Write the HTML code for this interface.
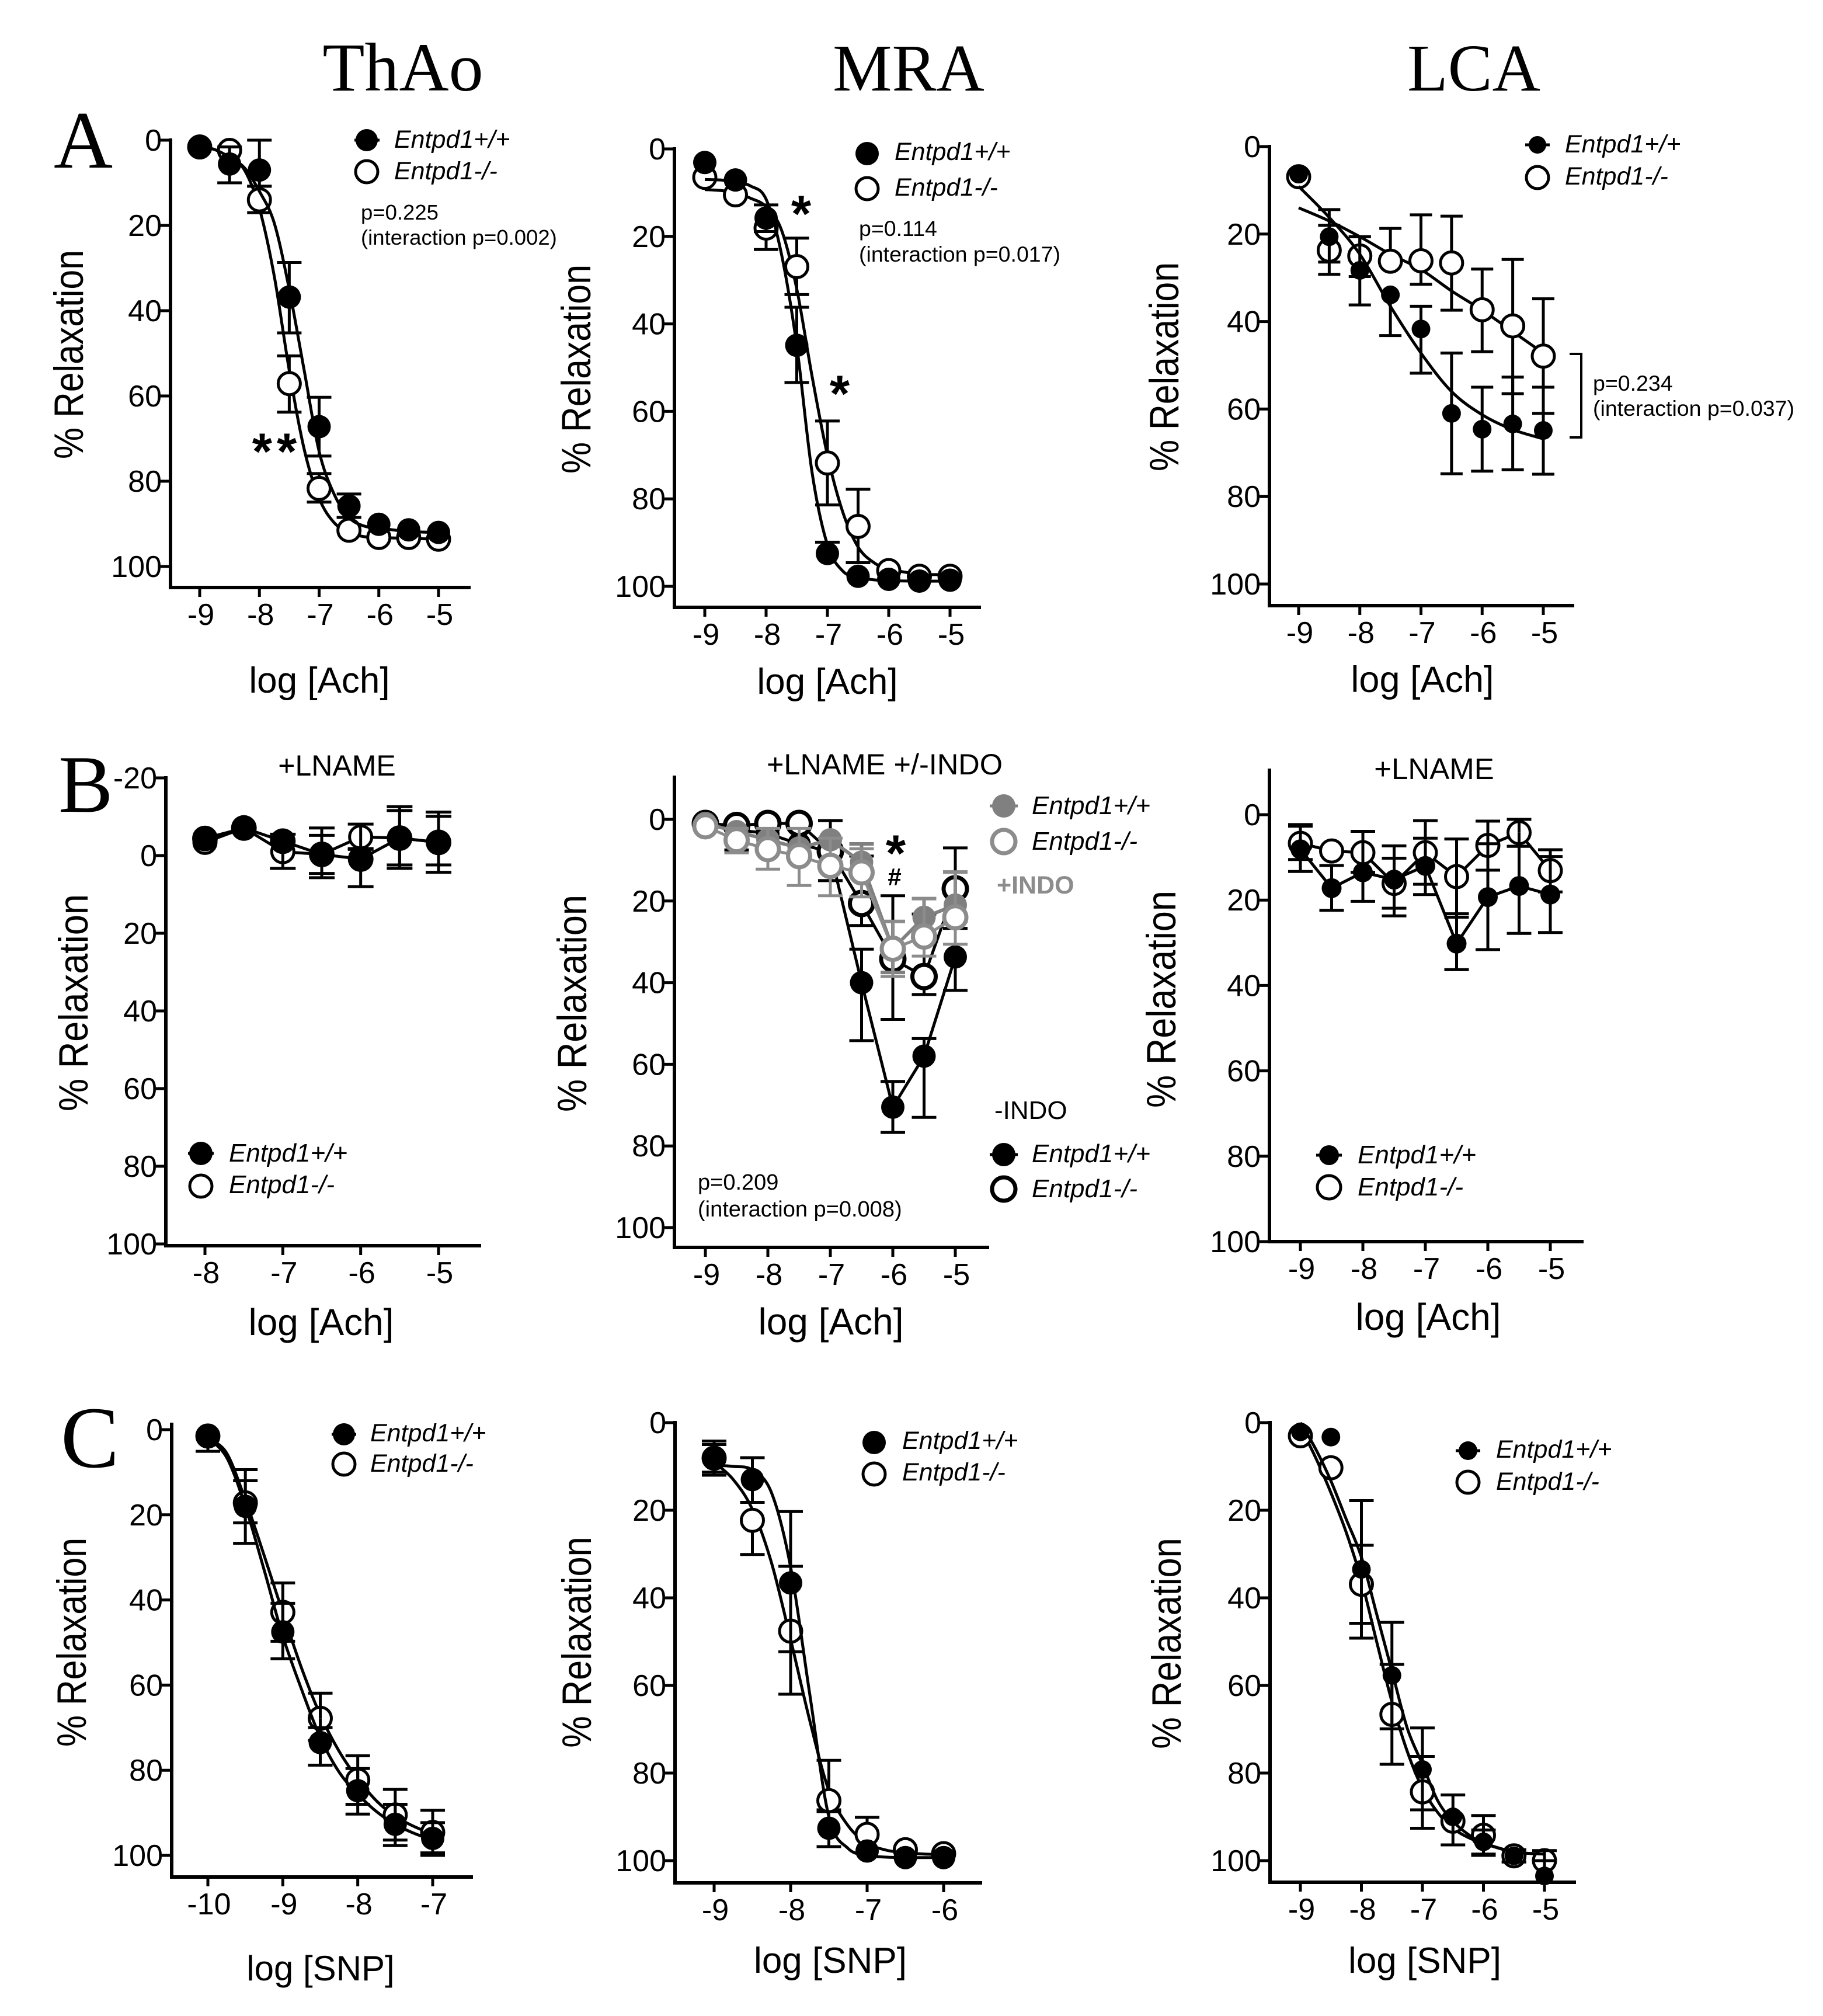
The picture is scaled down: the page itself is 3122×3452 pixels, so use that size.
<!DOCTYPE html>
<html lang="en">
<head>
<meta charset="utf-8">
<title>Vascular relaxation dose-response panels</title>
<style>
html,body{margin:0;padding:0;background:#fff;}
svg{display:block;position:absolute;left:0;top:0;}
text{font-family:"Liberation Sans",Arial,sans-serif;fill:#000;}
.col{font-family:"Liberation Serif",serif;font-size:114px;}
.let{font-family:"Liberation Serif",serif;font-size:140px;}
.yt{font-size:59px;}
.xt{font-size:62px;text-anchor:middle;}
.lg{font-size:43px;font-style:italic;}
.pv{font-size:37px;}
.sub{font-size:50px;text-anchor:middle;}
.st{font-size:88px;font-weight:bold;text-anchor:middle;}
</style>
</head>
<body>
<svg id="fig" xmlns="http://www.w3.org/2000/svg" width="3122" height="3452" viewBox="0 0 3122 3452">
<rect width="3122" height="3452" fill="#fff"/>
<text class="col" x="690" y="155" style="text-anchor:middle;font-size:118px">ThAo</text>
<text class="col" x="1556" y="155" style="text-anchor:middle">MRA</text>
<text class="col" x="2524" y="155" style="text-anchor:middle">LCA</text>
<text class="let" x="92" y="287">A</text>
<text class="let" x="100" y="1390">B</text>
<text class="let" x="104" y="2512" style="font-size:150px">C</text>

<text class="yt" transform="translate(142,607) rotate(-90) scale(1.03,1.2)" text-anchor="middle">% Relaxation</text>
<text class="yt" transform="translate(1011,632) rotate(-90) scale(1.03,1.2)" text-anchor="middle">% Relaxation</text>
<text class="yt" transform="translate(2018,628) rotate(-90) scale(1.03,1.2)" text-anchor="middle">% Relaxation</text>
<text class="yt" transform="translate(150,1717) rotate(-90) scale(1.07,1.2)" text-anchor="middle">% Relaxation</text>
<text class="yt" transform="translate(1004,1718) rotate(-90) scale(1.07,1.2)" text-anchor="middle">% Relaxation</text>
<text class="yt" transform="translate(2013,1711) rotate(-90) scale(1.07,1.2)" text-anchor="middle">% Relaxation</text>
<text class="yt" transform="translate(147,2812) rotate(-90) scale(1.03,1.2)" text-anchor="middle">% Relaxation</text>
<text class="yt" transform="translate(1012,2812) rotate(-90) scale(1.04,1.2)" text-anchor="middle">% Relaxation</text>
<text class="yt" transform="translate(2022,2814) rotate(-90) scale(1.04,1.2)" text-anchor="middle">% Relaxation</text>

<text class="xt" x="547" y="1186">log [Ach]</text>
<text class="xt" x="1417" y="1188">log [Ach]</text>
<text class="xt" x="2436" y="1185" style="font-size:63px">log [Ach]</text>
<text class="xt" x="550" y="2286" style="font-size:64px">log [Ach]</text>
<text class="xt" x="1423" y="2285" style="font-size:64px">log [Ach]</text>
<text class="xt" x="2446" y="2277" style="font-size:64px">log [Ach]</text>
<text class="xt" x="549" y="3391" style="font-size:60px">log [SNP]</text>
<text class="xt" x="1422" y="3378" style="font-size:62px">log [SNP]</text>
<text class="xt" x="2440" y="3378" style="font-size:62px">log [SNP]</text>

<text class="sub" x="577" y="1328">+LNAME</text>
<text class="sub" x="1515" y="1326" style="font-size:50.5px">+LNAME +/-INDO</text>
<text class="sub" x="2456" y="1334" style="font-size:51px">+LNAME</text>

<text class="pv" x="618" y="376" style="font-size:36.5px">p=0.225</text>
<text class="pv" x="618" y="419" style="font-size:36.5px">(interaction p=0.002)</text>
<text class="pv" x="1471" y="404" style="font-size:37.5px">p=0.114</text>
<text class="pv" x="1471" y="448" style="font-size:37.5px">(interaction p=0.017)</text>
<text class="pv" x="2728" y="669" style="font-size:37.5px">p=0.234</text>
<text class="pv" x="2728" y="712" style="font-size:37.5px">(interaction p=0.037)</text>
<text class="pv" x="1195" y="2037" style="font-size:38px">p=0.209</text>
<text class="pv" x="1195" y="2083" style="font-size:38px">(interaction p=0.008)</text>
<path d="M2688 606H2708V749H2688" fill="none" stroke="#000" stroke-width="4"/>

<text class="st" x="474" y="803" style="letter-spacing:8px">**</text>
<text class="st" x="1372" y="396">*</text>
<text class="st" x="1438" y="704">*</text>
<text class="st" x="1534" y="1491">*</text>
<text x="1532" y="1516" style="font-size:42px;font-weight:bold;text-anchor:middle">#</text>
<text x="1707" y="1530" style="font-size:43px;font-weight:bold;fill:#8c8c8c">+INDO</text>
<text x="1703" y="1916" style="font-size:44px">-INDO</text>

<g id="plots"></g>

<g>
<line x1="607" x2="650" y1="240" y2="240" stroke="#000" stroke-width="5"/><circle cx="628" cy="240" r="19" fill="#000"/>
<circle cx="628" cy="294" r="19" fill="#fff" stroke="#000" stroke-width="5"/>
<text class="lg" x="675" y="253">Entpd1+/+</text><text class="lg" x="675" y="307">Entpd1-/-</text>
</g>
<g>
<circle cx="1485" cy="263" r="20" fill="#000"/>
<circle cx="1485" cy="323" r="19" fill="#fff" stroke="#000" stroke-width="5"/>
<text class="lg" x="1532" y="274">Entpd1+/+</text><text class="lg" x="1532" y="335">Entpd1-/-</text>
</g>
<g>
<line x1="2612" x2="2654" y1="248" y2="248" stroke="#000" stroke-width="5"/><circle cx="2633" cy="248" r="15" fill="#000"/>
<circle cx="2633" cy="304" r="19" fill="#fff" stroke="#000" stroke-width="5"/>
<text class="lg" x="2680" y="261">Entpd1+/+</text><text class="lg" x="2680" y="316">Entpd1-/-</text>
</g>
<g>
<line x1="322" x2="366" y1="1975" y2="1975" stroke="#000" stroke-width="5"/><circle cx="344" cy="1975" r="20" fill="#000"/>
<circle cx="344" cy="2031" r="19" fill="#fff" stroke="#000" stroke-width="5"/>
<text class="lg" x="392" y="1989" style="font-size:44px">Entpd1+/+</text><text class="lg" x="392" y="2043" style="font-size:44px">Entpd1-/-</text>
</g>
<g>
<line x1="1695" x2="1743" y1="1380" y2="1380" stroke="#808080" stroke-width="5"/><circle cx="1719" cy="1380" r="20" fill="#808080"/>
<circle cx="1719" cy="1441" r="20" fill="#fff" stroke="#8c8c8c" stroke-width="7"/>
<text class="lg" x="1767" y="1394" style="font-size:44px">Entpd1+/+</text><text class="lg" x="1767" y="1455" style="font-size:44px">Entpd1-/-</text>
</g>
<g>
<line x1="1695" x2="1743" y1="1977" y2="1977" stroke="#000" stroke-width="5"/><circle cx="1719" cy="1977" r="20" fill="#000"/>
<circle cx="1719" cy="2036" r="20" fill="#fff" stroke="#000" stroke-width="7"/>
<text class="lg" x="1767" y="1990" style="font-size:44px">Entpd1+/+</text><text class="lg" x="1767" y="2050" style="font-size:44px">Entpd1-/-</text>
</g>
<g>
<line x1="2254" x2="2298" y1="1978" y2="1978" stroke="#000" stroke-width="5"/><circle cx="2276" cy="1978" r="17" fill="#000"/>
<circle cx="2276" cy="2033" r="20" fill="#fff" stroke="#000" stroke-width="5"/>
<text class="lg" x="2325" y="1992" style="font-size:44px">Entpd1+/+</text><text class="lg" x="2325" y="2047" style="font-size:44px">Entpd1-/-</text>
</g>
<g>
<line x1="568" x2="610" y1="2456" y2="2456" stroke="#000" stroke-width="5"/><circle cx="589" cy="2456" r="19" fill="#000"/>
<circle cx="589" cy="2507" r="19" fill="#fff" stroke="#000" stroke-width="5"/>
<text class="lg" x="634" y="2468">Entpd1+/+</text><text class="lg" x="634" y="2520">Entpd1-/-</text>
</g>
<g>
<circle cx="1497" cy="2470" r="20" fill="#000"/>
<circle cx="1497" cy="2524" r="19" fill="#fff" stroke="#000" stroke-width="5"/>
<text class="lg" x="1545" y="2481">Entpd1+/+</text><text class="lg" x="1545" y="2535">Entpd1-/-</text>
</g>
<g>
<line x1="2493" x2="2535" y1="2484" y2="2484" stroke="#000" stroke-width="5"/><circle cx="2514" cy="2484" r="16" fill="#000"/>
<circle cx="2514" cy="2538" r="19" fill="#fff" stroke="#000" stroke-width="5"/>
<text class="lg" x="2562" y="2496">Entpd1+/+</text><text class="lg" x="2562" y="2551">Entpd1-/-</text>
</g>
</svg>

<script>
/* ---------- shared axis data ---------- */
const relaxTicks = [0, 20, 40, 60, 80, 100];
const relaxTicksNeg = [-20, 0, 20, 40, 60, 80, 100];
const achTicks = [-9, -8, -7, -6, -5];
const achTicksB1 = [-8, -7, -6, -5];
const snpTicksC1 = [-10, -9, -8, -7];
const snpTicksC2 = [-9, -8, -7, -6];
const halfLogDoses = [-9, -8.5, -8, -7.5, -7, -6.5, -6, -5.5, -5];
const halfLogDosesB1 = [-8, -7.5, -7, -6.5, -6, -5.5, -5];
const halfLogDosesC1 = [-10, -9.5, -9, -8.5, -8, -7.5, -7];
const halfLogDosesC2 = [-9, -8.5, -8, -7.5, -7, -6.5, -6];
const fitDoses = [-9, -8.75, -8.5, -8.25, -8, -7.75, -7.5, -7.25, -7, -6.75, -6.5, -6.25, -6, -5.5, -5];
const fitDosesC1 = [-10, -9.75, -9.5, -9.25, -9, -8.75, -8.5, -8.25, -8, -7.75, -7.5, -7.25, -7];
const fitDosesC2 = [-9, -8.75, -8.5, -8.25, -8, -7.75, -7.5, -7.25, -7, -6.75, -6.5, -6.25, -6];

/* ---------- A1 ThAo ---------- */
const a1WtMean = [1.6, 5.6, 7, 36.8, 67.2, 85.8, 90.1, 91.4, 92];
const a1WtTop = [null, 1.6, 0, 28.7, 60.3, 83, null, null, null];
const a1WtBot = [null, 10, 10.8, 45.2, 74.1, 88.5, null, null, null];
const a1KoMean = [1.6, 2.4, 14, 57.1, 81.7, 91.5, 93.2, 93.2, 93.6];
const a1KoTop = [null, null, 10.8, 50.6, 78.2, 88.5, null, null, null];
const a1KoBot = [null, null, 17, 63.8, 84.9, null, null, null, null];
const a1WtFit = [1.5, 2.2, 4, 6.5, 12, 19.5, 35, 54, 73, 83, 88.5, 90.5, 91, 91.8, 92];
const a1KoFit = [1.5, 2.2, 4, 7, 16, 32, 54, 72.5, 84, 89.7, 92, 93, 93.2, 93.4, 93.6];

/* ---------- A2 MRA ---------- */
const a2WtMean = [3.1, 7.1, 15.8, 44.9, 92.5, 97.7, 98.4, 98.8, 98.6];
const a2WtTop = [null, null, 12.8, 36.2, 89.9, null, null, null, null];
const a2WtBot = [null, null, 18.9, 53.4, null, null, null, null, null];
const a2KoMean = [6.5, 10.5, 18.1, 26.9, 71.8, 86.3, 96.4, 97.7, 97.7];
const a2KoTop = [null, null, null, 20.4, 62.2, 77.8, null, null, null];
const a2KoBot = [null, null, 23, 33.3, 81.4, 94.6, null, null, null];
const a2WtFit = [7, 7.1, 7.5, 8.5, 11.5, 24, 45, 74, 90.5, 96.5, 98, 98.5, 98.7, 98.8, 98.8];
const a2KoFit = [9.3, 9.5, 10, 11.3, 13.2, 18.5, 32, 52, 70, 83, 91, 94.5, 96, 97.2, 97.3];

/* ---------- A3 LCA ---------- */
const a3WtMean = [6.3, 20.6, 28.3, 33.9, 41.7, 61, 64.6, 63.4, 64.9];
const a3WtTop = [null, 14.4, 20.6, null, 36.5, 47.2, 55, 52.7, 55];
const a3WtBot = [null, 26.4, 36.2, 43.2, 51.8, 74.8, 74.2, 73.9, 74.9];
const a3KoMean = [6.9, 23.7, 25, 26.2, 26.1, 26.6, 37.3, 41, 47.9];
const a3KoTop = [null, 18, 20.6, 18.7, 15.6, 15.9, 28, 25.8, 34.8];
const a3KoBot = [null, 29.2, 29.7, null, 31.5, 37.4, 46.9, 56.5, 61];
const a3WtFit = [9.1, 16.2, 24.6, 36.5, 47.2, 56, 61.3, 64.7, 66.8];
const a3KoFit = [14, 17, 20.6, 24.6, 28.1, 33, 37.4, 42.3, 47.2];

/* ---------- B1 ThAo +LNAME ---------- */
const b1WtMean = [-4.4, -7.1, -3.7, -0.3, 0.9, -4.5, -3.4];
const b1WtTop = [null, null, null, -5.2, -1.6, -11.6, -10.1];
const b1WtBot = [null, null, null, 4.6, 8, 2.4, 2.4];
const b1KoMean = [-3.4, -7.1, -1, -0.3, -4.8, -4.5, -3.4];
const b1KoTop = [null, null, -5.5, -7.1, -8.1, -12.6, -11.2];
const b1KoBot = [null, null, 3.3, 5.7, -1.8, 3.3, 4.3];

/* ---------- B2 MRA +LNAME +/-INDO ---------- */
const b2WtMean = [0.8, 2.5, 3.5, 6, 8, 40, 70.5, 58, 33.7];
const b2WtTop = [null, null, null, null, 0.3, 31.8, 64.2, 53.7, 25];
const b2WtBot = [null, 7.5, null, 8, 15, 54.2, 76.7, 73, 41.9];
const b2KoMean = [1, 1.5, 1, 1, 7.8, 20.6, 34.2, 38.5, 17];
const b2KoTop = [null, null, null, null, 0.3, 9, 18.7, 23.2, 7];
const b2KoBot = [null, null, null, null, 15, 26, 49, 42.9, 26.7];
const b2IndoWtMean = [1, 3, 5, 7, 5, 10.5, 31.7, 24, 21];
const b2IndoWtTop = [null, null, null, null, null, 6, 25, 19.4, 12.9];
const b2IndoWtBot = [null, null, null, null, null, null, 37.5, null, null];
const b2IndoKoMean = [1.7, 5.1, 7.3, 9, 11.4, 13, 31.7, 28.7, 24];
const b2IndoKoTop = [null, 2.2, 2.2, 2.2, 4.6, 7.2, 25, 19.4, 12.9];
const b2IndoKoBot = [null, 8.2, 12.2, 16.2, 18.7, 19, 38.5, 33.5, 30.6];

/* ---------- B3 LCA +LNAME ---------- */
const b3WtMean = [8.1, 17.2, 13.5, 15.2, 12, 30.2, 19.3, 16.7, 18.7];
const b3WtTop = [2.7, 11.9, null, 10.2, 5.5, 23.2, 6.8, 7.4, 9.8];
const b3WtBot = [13.3, 22.4, 20.3, 23.7, 18.7, 36.3, 31.6, 27.8, 27.6];
const b3KoMean = [6.7, 8.5, 8.9, 16.1, 8.9, 14.5, 7.2, 4.2, 13.1];
const b3KoTop = [2.3, null, 3.9, 7.3, 1.4, 5.7, 1.5, 1.1, 8.2];
const b3KoBot = [10.5, null, 13.5, 21.9, 16.3, 24, 13, 7.4, 18.1];

/* ---------- C1 ThAo SNP ---------- */
const c1WtMean = [1.5, 18, 47.5, 73.5, 84.8, 92.7, 96];
const c1WtTop = [null, 12, 40.8, 70, 79.6, 88, 92.3];
const c1WtBot = [5.1, 26.7, 53.8, 78.8, 90.3, 97.7, 100];
const c1KoMean = [1.5, 17.2, 42.9, 67.8, 82.3, 90.5, 94.6];
const c1KoTop = [null, 9.4, 36, 61.9, 76.6, 84.5, 89.4];
const c1KoBot = [null, 21.9, 49.7, 73, 88, 96.4, 99.4];
const c1WtFit = [2, 6.5, 18, 32.9, 48.5, 61, 72.3, 80.4, 85.6, 89.7, 92.7, 94.8, 96.4];
const c1KoFit = [2, 5.5, 16.5, 29.5, 43, 56, 67, 75.5, 82, 87.2, 90.8, 93.2, 95];

/* ---------- C2 MRA SNP ---------- */
const c2WtMean = [8.1, 13, 36.6, 92.6, 97.8, 99.3, 99.3];
const c2WtTop = [4.2, 8, 20.3, 88.8, null, null, null];
const c2WtBot = [12, 18.2, 52.3, 96.8, null, null, null];
const c2KoMean = [8.1, 22.3, 47.6, 86.3, 94, 97.5, 98.4];
const c2KoTop = [5, null, 32.8, 77.1, 90.1, null, null];
const c2KoBot = [11.3, 30.1, 62, 88.4, null, null, null];
const c2WtFit = [9.7, 10, 10.8, 16, 33, 62, 90, 97.2, 98.8, 99.2, 99.3, 99.3, 99.3];
const c2KoFit = [9, 13, 19.8, 32, 49.5, 68, 84, 92, 96, 97.6, 98.2, 98.5, 98.6];

/* ---------- C3 LCA SNP ---------- */
const c3WtMean = [2.1, 3.3, 33.5, 57.7, 79.2, 90, 95.7, 98.9, 103.5];
const c3WtTop = [null, null, 17.8, 45.6, 69.7, 85, 93, 97.5, 100];
const c3WtBot = [null, null, 45.8, 69.9, 88.4, 96.4, 98.5, 100.3, null];
const c3KoMean = [3, 10.3, 36.9, 66.6, 84.3, 91, 94.2, 98.9, 100];
const c3KoTop = [null, null, 28, 55.2, 76.2, null, 89.7, 97.5, 97.7];
const c3KoBot = [null, null, 49.2, 78, 92.6, null, 98.8, 100.3, null];
const c3WtFit = [0, 6, 13.3, 22, 30.7, 43.7, 56.7, 69.7, 78, 86.3, 91, 94, 96, 98, 98.5];
const c3KoFit = [1, 8, 16, 25, 36, 50, 63.7, 75, 83.5, 89, 92.6, 94.7, 96, 98, 98.5];

/* ---------- drawing helpers ---------- */
const NS = 'http://www.w3.org/2000/svg';
const plots = document.getElementById('plots');
function mk(tag, parent, name, attrs) {
  const el = document.createElementNS(NS, tag);
  
  
  for (const k in attrs) el.setAttribute(k, attrs[k]);
  parent.appendChild(el);
  return el;
}
function smoothPath(pts) {
  let d = 'M' + pts[0][0] + ' ' + pts[0][1];
  for (let i = 0; i < pts.length - 1; i++) {
    const p0 = pts[Math.max(i - 1, 0)], p1 = pts[i], p2 = pts[i + 1], p3 = pts[Math.min(i + 2, pts.length - 1)];
    d += 'C' + (p1[0] + (p2[0] - p0[0]) / 6) + ' ' + (p1[1] + (p2[1] - p0[1]) / 6) + ' ' +
         (p2[0] - (p3[0] - p1[0]) / 6) + ' ' + (p2[1] - (p3[1] - p1[1]) / 6) + ' ' + p2[0] + ' ' + p2[1];
  }
  return d;
}
function drawPanel(p) {
  const g = mk('g', plots, 'chart-' + p.id, {});
  const sx = v => p.xA[1] + (v - p.xA[0]) * (p.xB[1] - p.xA[1]) / (p.xB[0] - p.xA[0]);
  const sy = v => p.yA[1] + (v - p.yA[0]) * (p.yB[1] - p.yA[1]) / (p.yB[0] - p.yA[0]);
  const top = p.axisTop !== undefined ? p.axisTop : sy(p.yTicks[0]);

  /* axes */
  mk('line', g, 'y-axis-' + p.id, {x1: p.axisX, x2: p.axisX, y1: top - 3, y2: p.axisBottom + 3, stroke: '#000', 'stroke-width': 6});
  mk('line', g, 'x-axis-' + p.id, {x1: p.axisX - 3, x2: p.axisRight, y1: p.axisBottom, y2: p.axisBottom, stroke: '#000', 'stroke-width': 6});
  p.yTicks.forEach(v => {
    const y = sy(v);
    mk('line', g, 'y-tick-' + p.id, {x1: p.axisX - 17, x2: p.axisX, y1: y, y2: y, stroke: '#000', 'stroke-width': 5});
    const t = mk('text', g, 'y-tick-label-' + p.id, {x: p.axisX - 15, y: y + 18, 'text-anchor': 'end', 'font-size': 52});
    t.textContent = v;
  });
  p.xTicks.forEach(v => {
    const x = sx(v);
    mk('line', g, 'x-tick-' + p.id, {x1: x, x2: x, y1: p.axisBottom, y2: p.axisBottom + 16, stroke: '#000', 'stroke-width': 5});
    const t = mk('text', g, 'x-tick-label-' + p.id, {x: x + 2, y: p.axisBottom + 64, 'text-anchor': 'middle', 'font-size': 52});
    t.textContent = v;
  });

  /* series */
  p.series.forEach(s => {
    const sg = mk('g', g, 'series-' + s.key + '-' + p.id, {});
    const col = s.color || '#000';
    const sw = s.lw || 5;
    if (s.fit) {
      const pts = s.fitX.map((x, i) => [sx(x), sy(s.fit[i])]);
      mk('path', sg, 'fit-curve-' + s.key, {d: smoothPath(pts), fill: 'none', stroke: col, 'stroke-width': sw});
    } else {
      const pts = s.x.map((x, i) => sx(x) + ',' + sy(s.mean[i])).join(' ');
      mk('polyline', sg, 'connect-line-' + s.key, {points: pts, fill: 'none', stroke: col, 'stroke-width': sw});
    }
    const bars = () => {
      s.x.forEach((d, i) => {
        const x = sx(d), cy = sy(s.mean[i]);
        [s.top[i], s.bot[i]].forEach(e => {
          if (e === null) return;
          const ey = sy(e);
          mk('line', sg, 'error-stem-' + s.key, {x1: x, x2: x, y1: cy, y2: ey, stroke: col, 'stroke-width': sw});
          mk('line', sg, 'error-cap-' + s.key, {x1: x - (p.cap || 21), x2: x + (p.cap || 21), y1: ey, y2: ey, stroke: col, 'stroke-width': sw});
        });
      });
    };
    if (!p.barsOver) bars();
    s.x.forEach((d, i) => {
      const attrs = {cx: sx(d), cy: sy(s.mean[i]), r: s.r};
      if (s.open) {
        attrs.fill = '#fff';
        attrs.stroke = col;
        attrs['stroke-width'] = s.msw || 5;
      } else {
        attrs.fill = col;
      }
      mk('circle', sg, 'point-' + s.key, attrs);
    });
    if (p.barsOver) bars();
  });
}

/* ---------- panel layouts (pixel geometry separate from data) ---------- */
const panels = [
  {id: 'a1', xA: [-9, 342], xB: [-5, 751], yA: [0, 240], yB: [100, 970], axisX: 292, axisBottom: 1006, axisRight: 806, xTicks: achTicks, yTicks: relaxTicks,
   series: [
     {key: 'ko', x: halfLogDoses, mean: a1KoMean, top: a1KoTop, bot: a1KoBot, fitX: fitDoses, fit: a1KoFit, r: 19, open: true},
     {key: 'wt', x: halfLogDoses, mean: a1WtMean, top: a1WtTop, bot: a1WtBot, fitX: fitDoses, fit: a1WtFit, r: 20}]},
  {id: 'a2', xA: [-9, 1207], xB: [-5, 1627], yA: [0, 255], yB: [100, 1004], axisX: 1155, axisBottom: 1040, axisRight: 1680, xTicks: achTicks, yTicks: relaxTicks,
   series: [
     {key: 'ko', x: halfLogDoses, mean: a2KoMean, top: a2KoTop, bot: a2KoBot, fitX: fitDoses, fit: a2KoFit, r: 19, open: true},
     {key: 'wt', x: halfLogDoses, mean: a2WtMean, top: a2WtTop, bot: a2WtBot, fitX: fitDoses, fit: a2WtFit, r: 20}]},
  {id: 'a3', xA: [-9, 2224], xB: [-5, 2643], yA: [0, 251], yB: [100, 1000], axisX: 2174, axisBottom: 1037, axisRight: 2696, xTicks: achTicks, yTicks: relaxTicks, cap: 19,
   series: [
     {key: 'ko', x: halfLogDoses, mean: a3KoMean, top: a3KoTop, bot: a3KoBot, fitX: halfLogDoses, fit: a3KoFit, r: 19, open: true},
     {key: 'wt', x: halfLogDoses, mean: a3WtMean, top: a3WtTop, bot: a3WtBot, fitX: halfLogDoses, fit: a3WtFit, r: 16}]},
  {id: 'b1', xA: [-8, 351], xB: [-5, 751], yA: [0, 1465], yB: [100, 2130], axisX: 284, axisBottom: 2133, axisRight: 824, xTicks: achTicksB1, yTicks: relaxTicksNeg, cap: 22, barsOver: true,
   series: [
     {key: 'ko', x: halfLogDosesB1, mean: b1KoMean, top: b1KoTop, bot: b1KoBot, r: 19, open: true},
     {key: 'wt', x: halfLogDosesB1, mean: b1WtMean, top: b1WtTop, bot: b1WtBot, r: 22}]},
  {id: 'b2', xA: [-9, 1208], xB: [-5, 1636], yA: [0, 1403], yB: [100, 2102], axisX: 1155, axisBottom: 2136, axisRight: 1694, axisTop: 1331, xTicks: achTicks, yTicks: relaxTicks,
   series: [
     {key: 'wt', x: halfLogDoses, mean: b2WtMean, top: b2WtTop, bot: b2WtBot, r: 20},
     {key: 'ko', x: halfLogDoses, mean: b2KoMean, top: b2KoTop, bot: b2KoBot, r: 20, open: true, msw: 7},
     {key: 'indo-wt', x: halfLogDoses, mean: b2IndoWtMean, top: b2IndoWtTop, bot: b2IndoWtBot, r: 20, color: '#808080', lw: 6},
     {key: 'indo-ko', x: halfLogDoses, mean: b2IndoKoMean, top: b2IndoKoTop, bot: b2IndoKoBot, r: 19, open: true, msw: 7, color: '#8c8c8c', lw: 5}]},
  {id: 'b3', xA: [-9, 2227], xB: [-5, 2655], yA: [0, 1395], yB: [100, 2126], axisX: 2174, axisBottom: 2126, axisRight: 2712, axisTop: 1319, xTicks: achTicks, yTicks: relaxTicks, cap: 21, barsOver: true,
   series: [
     {key: 'ko', x: halfLogDoses, mean: b3KoMean, top: b3KoTop, bot: b3KoBot, r: 19, open: true},
     {key: 'wt', x: halfLogDoses, mean: b3WtMean, top: b3WtTop, bot: b3WtBot, r: 17}]},
  {id: 'c1', xA: [-10, 356], xB: [-7, 741], yA: [0, 2448], yB: [100, 3177], axisX: 294, axisBottom: 3214, axisRight: 810, axisTop: 2439, xTicks: snpTicksC1, yTicks: relaxTicks, barsOver: true,
   series: [
     {key: 'ko', x: halfLogDosesC1, mean: c1KoMean, top: c1KoTop, bot: c1KoBot, fitX: fitDosesC1, fit: c1KoFit, r: 19, open: true},
     {key: 'wt', x: halfLogDosesC1, mean: c1WtMean, top: c1WtTop, bot: c1WtBot, fitX: fitDosesC1, fit: c1WtFit, r: 20}]},
  {id: 'c2', xA: [-9, 1223], xB: [-6, 1616], yA: [0, 2436], yB: [100, 3186], axisX: 1156, axisBottom: 3224, axisRight: 1682, xTicks: snpTicksC2, yTicks: relaxTicks,
   series: [
     {key: 'ko', x: halfLogDosesC2, mean: c2KoMean, top: c2KoTop, bot: c2KoBot, fitX: fitDosesC2, fit: c2KoFit, r: 19, open: true},
     {key: 'wt', x: halfLogDosesC2, mean: c2WtMean, top: c2WtTop, bot: c2WtBot, fitX: fitDosesC2, fit: c2WtFit, r: 20}]},
  {id: 'c3', xA: [-9, 2227], xB: [-5, 2645], yA: [0, 2436], yB: [100, 3186], axisX: 2175, axisBottom: 3223, axisRight: 2699, xTicks: achTicks, yTicks: relaxTicks, barsOver: true,
   series: [
     {key: 'ko', x: halfLogDoses, mean: c3KoMean, top: c3KoTop, bot: c3KoBot, fitX: fitDoses, fit: c3KoFit, r: 19, open: true},
     {key: 'wt', x: halfLogDoses, mean: c3WtMean, top: c3WtTop, bot: c3WtBot, fitX: fitDoses, fit: c3WtFit, r: 16}]}
];
panels.forEach(drawPanel);
</script>
</body>
</html>
